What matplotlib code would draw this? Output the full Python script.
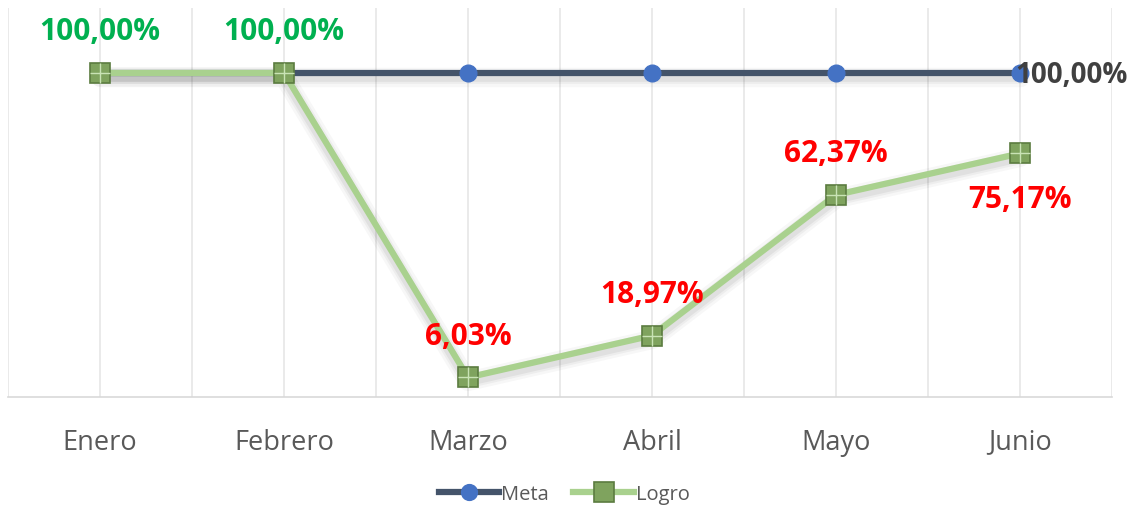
import matplotlib
matplotlib.use("Agg")
from matplotlib import pyplot as plt
import numpy as np

meses = ["Enero", "Febrero", "Marzo", "Abril", "Mayo", "Junio"]
meta = [100.0, 100.0, 100.0, 100.0, 100.0, 100.0]
logro = [100.0, 100.0, 6.03, 18.97, 62.37, 75.17]

plt.rcParams['font.family'] = ['Open Sans', 'DejaVu Sans']

fig = plt.figure(figsize=(11.4, 5.1), dpi=100)
ax = fig.add_axes([0.007, 0.2196, 0.9684, 0.7624])

x = np.arange(len(meses))

# soft shadow under the series
for y in (meta, logro):
    for w, a in ((14, 0.03), (10, 0.04), (7, 0.05)):
        ax.plot(x, np.array(y) - 1.2, color='black', lw=w, alpha=a,
                solid_capstyle='round', zorder=2)

ax.plot(x, meta, color='#44546A', lw=4.5, marker='o', ms=12,
        mfc='#4472C4', mec='#4472C4', label='Meta', zorder=3)
ax.plot(x, logro, color='#A9D18E', lw=4.5, marker='s', ms=15,
        mfc='#7FA35E', mec='#5B7C40', mew=1.2, label='Logro', zorder=4)
# bevel look on the square markers
ax.plot(x, logro, ls='none', marker='+', ms=14, mec='#C9E3B5', mew=1.0, zorder=5)

def fmt(v):
    return ("%.2f%%" % v).replace('.', ',')

for i, v in enumerate(logro):
    col = '#00B050' if v >= 100 else '#FF0000'
    dy = -33 if i == len(logro) - 1 else 30
    ax.annotate(fmt(v), (x[i], v), xytext=(0, dy), textcoords='offset points',
                ha='center', va='center', color=col, fontsize=21.5, fontweight='bold', zorder=7)

ax.annotate(fmt(meta[-1]), (x[-1], meta[-1]), xytext=(-3, -1), textcoords='offset points',
            ha='left', va='center', color='#404040', fontsize=20, fontweight='bold', zorder=7)

ax.set_xlim(-0.5, len(meses) - 0.5)
ax.set_ylim(0, 120)
ax.set_xticks(x)
ax.set_xticklabels(meses, fontsize=19.5, color='#595959')
ax.set_xticks(np.arange(-0.5, len(meses), 0.5), minor=True)
ax.set_yticks([])
ax.tick_params(axis='x', which='both', length=0, pad=22)
ax.grid(True, axis='x', which='both', color='#E6E6E6', lw=1.2)
ax.set_axisbelow(True)
for s in ['top', 'right', 'left']:
    ax.spines[s].set_visible(False)
ax.spines['bottom'].set_color('#D9D9D9')
ax.spines['bottom'].set_linewidth(1.2)

h, l = ax.get_legend_handles_labels()
fig.legend(h, l, loc='lower center', bbox_to_anchor=(0.495, -0.025), ncol=2, frameon=False,
           fontsize=14.5, labelcolor='#595959', handlelength=3.0, columnspacing=1.2,
           handletextpad=0.1, markerscale=0.95)

fig.savefig('out.png', dpi=100)
